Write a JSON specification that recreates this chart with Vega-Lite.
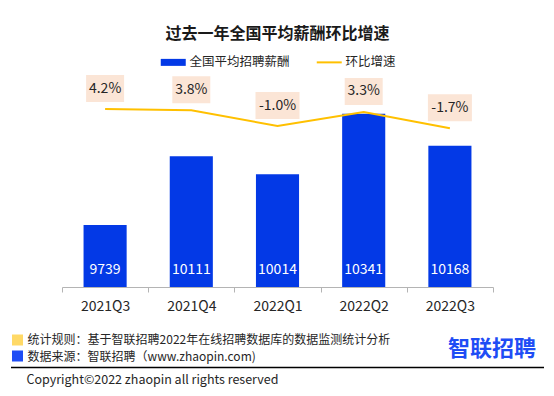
{
  "$schema": "https://vega.github.io/schema/vega-lite/v6.json",
  "width": 431,
  "height": 217,
  "autosize": {"type": "none"},
  "padding": {"left": 62, "top": 70, "right": 61, "bottom": 109},
  "background": "white",
  "config": {"font": "Noto Sans CJK SC", "view": {"stroke": null}},
  "title": {"text": "过去一年全国平均薪酬环比增速", "fontSize": 16, "fontWeight": "bold", "color": "#1a1a1a", "anchor": "middle", "frame": "group", "offset": 14},
  "data": {"values": [
    {"quarter": "2021Q3", "salary": 9739, "rate": 4.2, "label": "4.2%"},
    {"quarter": "2021Q4", "salary": 10111, "rate": 3.8, "label": "3.8%"},
    {"quarter": "2022Q1", "salary": 10014, "rate": -1.0, "label": "-1.0%"},
    {"quarter": "2022Q2", "salary": 10341, "rate": 3.3, "label": "3.3%"},
    {"quarter": "2022Q3", "salary": 10168, "rate": -1.7, "label": "-1.7%"}
  ]},
  "layer": [
    {
      "encoding": {
        "x": {"field": "quarter", "type": "nominal", "sort": null, "title": null,
          "scale": {"paddingInner": 0, "paddingOuter": 0},
          "axis": {"labelAngle": 0, "labelFontSize": 14, "labelColor": "#262626", "labelPadding": 7,
            "domainColor": "#b4b4b4", "tickColor": "#b4b4b4", "tickSize": 5, "tickBand": "extent", "domainWidth": 1}}
      },
      "layer": [
        {
          "mark": {"type": "bar", "width": {"band": 0.5}},
          "encoding": {
            "y": {"field": "salary", "type": "quantitative", "scale": {"domain": [9404, 10577.6], "zero": false, "nice": false}, "axis": null},
            "y2": {"datum": 9404},
            "color": {"datum": "全国平均招聘薪酬", "type": "nominal",
              "scale": {"domain": ["全国平均招聘薪酬", "环比增速"], "range": ["#0339E6", "#FFC000"]},
              "legend": {"orient": "none", "legendX": 105, "legendY": -14, "direction": "horizontal", "title": null,
                "labelFontSize": 12.5, "labelColor": "#262626", "symbolSize": 625, "columnPadding": 22, "labelOffset": 10,
                "encode": {"symbols": {"update": {
                  "shape": {"signal": "datum.value === '环比增速' ? 'stroke' : 'M-1,-0.28L1,-0.28L1,0.28L-1,0.28Z'"},
                  "strokeWidth": {"signal": "datum.value === '环比增速' ? 2 : 0"},
                  "stroke": {"signal": "scale('color', datum.value)"},
                  "fill": {"signal": "datum.value === '环比增速' ? 'transparent' : scale('color', datum.value)"},
                  "opacity": {"value": 1}, "fillOpacity": {"value": 1}, "strokeOpacity": {"value": 1}
                }}}}
            }
          }
        },
        {
          "mark": {"type": "text", "color": "white", "fontSize": 14, "baseline": "middle", "dy": -17},
          "encoding": {
            "y": {"datum": 9404, "type": "quantitative", "scale": {"domain": [9404, 10577.6], "zero": false, "nice": false}, "axis": null},
            "text": {"field": "salary", "type": "quantitative", "format": "d"}
          }
        }
      ]
    },
    {
      "encoding": {
        "x": {"field": "quarter", "type": "nominal", "sort": null, "title": null}
      },
      "layer": [
        {
          "mark": {"type": "line", "strokeWidth": 2},
          "encoding": {
            "y": {"field": "rate", "type": "quantitative", "scale": {"domain": [-50.23, 16.13], "zero": false, "nice": false}, "axis": null},
            "color": {"datum": "环比增速", "type": "nominal"}
          }
        },
        {
          "transform": [{"filter": "datum.rate >= 0"}],
          "mark": {"type": "rect", "width": 38, "height": 27, "yOffset": -20.5, "color": "#FBE5D6"},
          "encoding": {
            "y": {"field": "rate", "type": "quantitative", "scale": {"domain": [-50.23, 16.13], "zero": false, "nice": false}, "axis": null}
          }
        },
        {
          "transform": [{"filter": "datum.rate < 0"}],
          "mark": {"type": "rect", "width": 44, "height": 27, "yOffset": -20.5, "color": "#FBE5D6"},
          "encoding": {
            "y": {"field": "rate", "type": "quantitative", "scale": {"domain": [-50.23, 16.13], "zero": false, "nice": false}, "axis": null}
          }
        },
        {
          "mark": {"type": "text", "fontSize": 14, "color": "#262626", "baseline": "middle", "yOffset": -20.5},
          "encoding": {
            "y": {"field": "rate", "type": "quantitative", "scale": {"domain": [-50.23, 16.13], "zero": false, "nice": false}, "axis": null},
            "text": {"field": "label", "type": "nominal"}
          }
        }
      ]
    },
    {
      "data": {"values": [{"note": "统计规则：基于智联招聘2022年在线招聘数据库的数据监测统计分析"}]},
      "layer": [
        {"mark": {"type": "square", "size": 121, "color": "#FFD966", "opacity": 1},
          "encoding": {"x": {"value": -44.5}, "y": {"value": 270}}},
        {"mark": {"type": "text", "fontSize": 12, "color": "#262626", "align": "left", "baseline": "middle"},
          "encoding": {"x": {"value": -34.4}, "y": {"value": 270}, "text": {"field": "note"}}}
      ]
    },
    {
      "data": {"values": [{"note": "数据来源：智联招聘（www.zhaopin.com)"}]},
      "layer": [
        {"mark": {"type": "square", "size": 121, "color": "#1F4DF5", "opacity": 1},
          "encoding": {"x": {"value": -44.5}, "y": {"value": 286}}},
        {"mark": {"type": "text", "fontSize": 12, "color": "#262626", "align": "left", "baseline": "middle"},
          "encoding": {"x": {"value": -34.4}, "y": {"value": 286.5}, "text": {"field": "note"}}}
      ]
    },
    {
      "data": {"values": [{"logo": "智联招聘"}]},
      "mark": {"type": "text", "fontSize": 22, "fontWeight": "bold", "color": "#1F4DF5", "align": "left", "baseline": "middle"},
      "encoding": {"x": {"value": 386}, "y": {"value": 279}, "text": {"field": "logo"}}
    },
    {
      "data": {"values": [{"c": "Copyright©2022 zhaopin all rights reserved"}]},
      "layer": [
        {"mark": {"type": "rule", "color": "#000000", "strokeWidth": 1.5},
          "encoding": {"x": {"value": -51}, "x2": {"value": 482}, "y": {"value": 297.5}}},
        {"mark": {"type": "text", "fontSize": 12.5, "color": "#262626", "align": "left", "baseline": "middle"},
          "encoding": {"x": {"value": -35.5}, "y": {"value": 310}, "text": {"field": "c"}}}
      ]
    }
  ],
  "resolve": {"scale": {"y": "independent"}}
}
